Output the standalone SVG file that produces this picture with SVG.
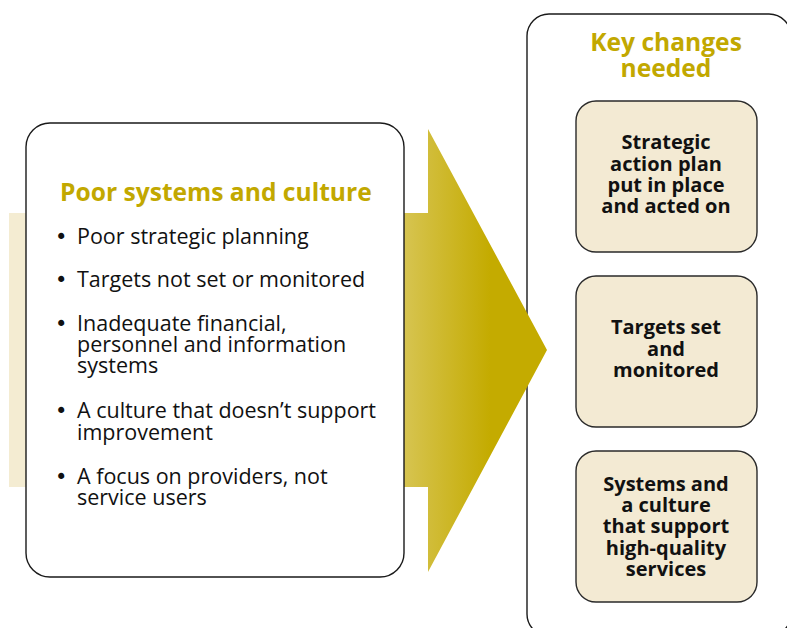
<svg xmlns="http://www.w3.org/2000/svg" width="787" height="628" viewBox="0 0 787 628">
  <style>
    .frame { fill: #ffffff; stroke: #1a1a1a; stroke-width: 1.4; }
    .card { fill: #f3ead3; stroke: #2a2a2a; stroke-width: 1.4; }
    .heading { font-family: "Open Sans", "Noto Sans", sans-serif; font-weight: bold; font-size: 24.6px; fill: #c2a800; }
    .item { font-family: "Open Sans", "Noto Sans", sans-serif; font-size: 21.5px; fill: #111111; }
    .bullet { font-family: "DejaVu Sans", sans-serif; font-size: 21px; fill: #111111; }
    .cardtext { font-family: "Open Sans", "Noto Sans", sans-serif; font-weight: bold; font-size: 20px; fill: #111111; text-anchor: middle; }
  </style>
  <defs>
    <linearGradient id="arrowFill" gradientUnits="userSpaceOnUse" x1="266" y1="0" x2="490" y2="0">
      <stop offset="0" stop-color="#f4ecd2"/>
      <stop offset="1" stop-color="#c4ab00"/>
    </linearGradient>
  </defs>

  <rect width="787" height="628" fill="#ffffff"/>

  <!-- changes panel (drawn first so the arrow tip sits over its edge) -->
  <g id="node-key-changes">
    <rect class="frame" x="527" y="14" width="264" height="622" rx="22" ry="22"/>
    <text class="heading" x="666" y="51" text-anchor="middle">Key changes</text>
    <text class="heading" x="666" y="77" text-anchor="middle">needed</text>
  </g>

  <!-- connectors: broad arrow leading from the problems to the changes -->
  <g id="connectors">
    <path d="M9,213 H428 V129 L547,350 L428,572 V487 H9 Z" fill="url(#arrowFill)"/>
  </g>

  <!-- current situation -->
  <g id="node-poor-systems">
    <rect class="frame" x="26" y="123" width="378" height="454" rx="24" ry="24"/>
    <text class="heading" x="60" y="201">Poor systems and culture</text>
    <g class="bullet">
      <text x="55" y="244">•</text>
      <text x="55" y="287">•</text>
      <text x="55" y="331">•</text>
      <text x="55" y="418">•</text>
      <text x="55" y="484">•</text>
    </g>
    <g class="item">
      <text x="77" y="244">Poor strategic planning</text>
      <text x="77" y="287">Targets not set or monitored</text>
      <text x="77" y="331">Inadequate financial,</text>
      <text x="77" y="352">personnel and information</text>
      <text x="77" y="373">systems</text>
      <text x="77" y="418">A culture that doesn’t support</text>
      <text x="77" y="440">improvement</text>
      <text x="77" y="484">A focus on providers, not</text>
      <text x="77" y="505">service users</text>
    </g>
  </g>

  <g id="node-action-plan">
    <rect class="card" x="576" y="101" width="181" height="151" rx="20" ry="20"/>
    <text class="cardtext" x="666" y="149">Strategic</text>
    <text class="cardtext" x="666" y="171">action plan</text>
    <text class="cardtext" x="666" y="192">put in place</text>
    <text class="cardtext" x="666" y="213">and acted on</text>
  </g>

  <g id="node-targets">
    <rect class="card" x="576" y="276" width="181" height="151" rx="20" ry="20"/>
    <text class="cardtext" x="666" y="334">Targets set</text>
    <text class="cardtext" x="666" y="356">and</text>
    <text class="cardtext" x="666" y="377">monitored</text>
  </g>

  <g id="node-systems-culture">
    <rect class="card" x="576" y="451" width="181" height="151" rx="20" ry="20"/>
    <text class="cardtext" x="666" y="491">Systems and</text>
    <text class="cardtext" x="666" y="512">a culture</text>
    <text class="cardtext" x="666" y="533">that support</text>
    <text class="cardtext" x="666" y="555">high-quality</text>
    <text class="cardtext" x="666" y="576">services</text>
  </g>
</svg>
